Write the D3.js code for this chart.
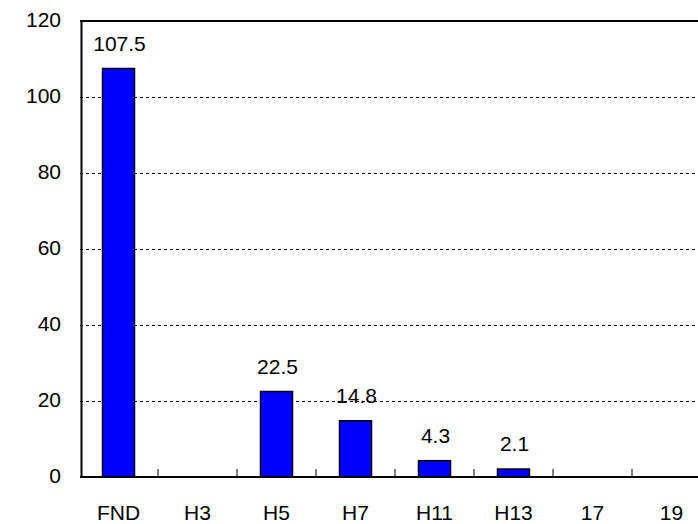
<!DOCTYPE html>
<html>
<head>
<meta charset="utf-8">
<script src="https://cdn.jsdelivr.net/npm/d3@7"></script>
<style>
  body { margin: 0; background: #fff; }
  text { font-family: "Liberation Sans", Arial, sans-serif; }
</style>
</head>
<body>
<svg></svg>
<script>
var categories = ['FND', 'H3', 'H5', 'H7', 'H11', 'H13', '17', '19'];
var values = [107.5, null, 22.5, 14.8, 4.3, 2.1, null, null];
var yTicks = [0, 20, 40, 60, 80, 100, 120];

var width = 698;
var height = 524;
var plotLeft = 80, plotTop = 21, plotBottom = 477, bandW = 79;
var fontSize = '21px';

var svg = d3.select('svg')
    .attr('width', width)
    .attr('height', height);

var x = d3.scaleBand()
    .domain(categories)
    .range([plotLeft, plotLeft + bandW * categories.length]);

var y = d3.scaleLinear()
    .domain([0, 120])
    .range([plotBottom, plotTop]);

// dashed grid
svg.append('g')
    .selectAll('line')
    .data(yTicks.filter(function (d) { return d > 0 && d < 120; }))
    .enter()
    .append('line')
    .attr('x1', plotLeft)
    .attr('x2', width)
    .attr('y1', function (d) { return y(d) + 0.5; })
    .attr('y2', function (d) { return y(d) + 0.5; })
    .attr('stroke', '#000')
    .attr('stroke-width', 1)
    .attr('stroke-dasharray', '3,3');

// top border
svg.append('line')
    .attr('x1', plotLeft).attr('x2', width)
    .attr('y1', y(120)).attr('y2', y(120))
    .attr('stroke', '#000').attr('stroke-width', 2);

// bars
var bars = categories.map(function (c, i) { return { cat: c, v: values[i] }; })
    .filter(function (d) { return d.v != null; });

svg.append('g')
    .selectAll('rect')
    .data(bars)
    .enter()
    .append('rect')
    .attr('x', function (d) { return x(d.cat) + x.bandwidth() / 2 - 17; })
    .attr('width', 32)
    .attr('y', function (d) { return y(d.v); })
    .attr('height', function (d) { return y(0) - y(d.v); })
    .attr('fill', '#0000ff')
    .attr('stroke', '#000')
    .attr('stroke-width', 1.5);

// value labels
svg.append('g')
    .selectAll('text')
    .data(bars)
    .enter()
    .append('text')
    .attr('x', function (d) { return x(d.cat) + x.bandwidth() / 2; })
    .attr('y', function (d) { return y(d.v) - 18; })
    .attr('text-anchor', 'middle')
    .style('font-size', fontSize)
    .attr('fill', '#000')
    .text(function (d) { return d.v; });

// y axis
var yAxis = d3.axisLeft(y).tickValues(yTicks).tickSize(0).tickPadding(20);
var gy = svg.append('g')
    .attr('transform', 'translate(' + (plotLeft + 1) + ',0)')
    .call(yAxis);
gy.select('.domain').attr('stroke', '#000').attr('stroke-width', 2);
gy.selectAll('text')
    .style('font-size', fontSize)
    .attr('fill', '#000')
    .attr('dy', '0.25em')
    .attr('font-family', '"Liberation Sans", Arial, sans-serif');

// x axis
var gx = svg.append('g')
    .attr('transform', 'translate(0,' + plotBottom + ')');
gx.append('line')
    .attr('x1', plotLeft).attr('x2', width)
    .attr('y1', 0).attr('y2', 0)
    .attr('stroke', '#000').attr('stroke-width', 2);
gx.selectAll('line.tick')
    .data(categories.slice(1))
    .enter()
    .append('line')
    .attr('class', 'tick')
    .attr('x1', function (d) { return x(d) - 1; })
    .attr('x2', function (d) { return x(d) - 1; })
    .attr('y1', 0).attr('y2', -8)
    .attr('stroke', '#000').attr('stroke-width', 1);
gx.selectAll('text')
    .data(categories)
    .enter()
    .append('text')
    .attr('x', function (d) { return x(d) + x.bandwidth() / 2 - 1; })
    .attr('y', 43)
    .attr('text-anchor', 'middle')
    .style('font-size', fontSize)
    .attr('fill', '#000')
    .text(function (d) { return d; });
</script>
</body>
</html>
